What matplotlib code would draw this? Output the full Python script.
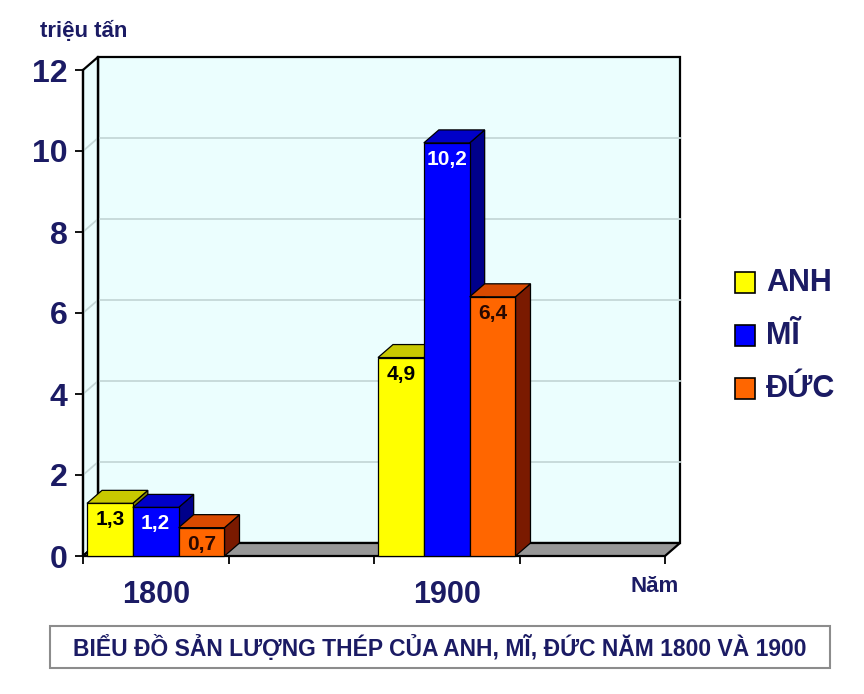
import matplotlib
matplotlib.use('Agg')
import matplotlib.pyplot as plt
from matplotlib.patches import Polygon, Rectangle
from matplotlib import font_manager

# ---- data ----
categories = ['1800', '', '1900', '']
series_names = ['ANH', 'MĨ', 'ĐỨC']
anh = [1.3, None, 4.9, None]
mi = [1.2, None, 10.2, None]
duc = [0.7, None, 6.4, None]
y_ticks = [0, 2, 4, 6, 8, 10, 12]
y_unit = 'triệu tấn'
x_name = 'Năm'
title = 'BIỂU ĐỒ SẢN LƯỢNG THÉP CỦA ANH, MĨ, ĐỨC NĂM 1800 VÀ 1900'

series = [anh, mi, duc]
front_c = ['#FFFF00', '#0000FF', '#FF6600']
top_c = ['#C8C800', '#0000C8', '#D94A00']
side_c = ['#8A8A00', '#00008A', '#7A1A00']
lab_c = ['black', 'white', '#2a0800']
navy = '#1B1B64'

avail = {f.name for f in font_manager.fontManager.ttflist}
base = 'Liberation Sans' if 'Liberation Sans' in avail else 'DejaVu Sans'
narrow = 'Liberation Sans Narrow' if 'Liberation Sans Narrow' in avail else None
plt.rcParams['font.family'] = [base, 'DejaVu Sans']
plt.rcParams['font.weight'] = 'bold'

W, H = 864, 694
fig = plt.figure(figsize=(W / 100, H / 100), dpi=100)
fig.patch.set_facecolor('white')
ax = fig.add_axes([83 / W, (H - 556) / H, 582 / W, 486 / H])
n = len(categories)
ymax = y_ticks[-1]
ax.set_xlim(0, n)
ax.set_ylim(0, ymax)
ax.patch.set_visible(False)
for s in ax.spines.values():
    s.set_visible(False)

dx = 15 / 145.5
dy = 13 / 40.5
wall = '#EBFEFE'
grid = '#C5D8D8'

# walls
ax.add_patch(Rectangle((dx, dy), n, ymax, facecolor=wall, edgecolor='black',
                       lw=1.6, zorder=0.5, clip_on=False))
ax.add_patch(Polygon([(0, 0), (dx, dy), (dx, ymax + dy), (0, ymax)], closed=True,
                     facecolor=wall, edgecolor='black', lw=1.6, zorder=0.55, clip_on=False))
for v in y_ticks[1:-1]:
    ax.plot([dx, n + dx], [v + dy, v + dy], color=grid, lw=1.3, zorder=0.6, clip_on=False)
    ax.plot([0, dx], [v, v + dy], color=grid, lw=1.3, zorder=0.6, clip_on=False)
ax.plot([dx, dx], [dy, ymax + dy], color='black', lw=1.6, zorder=0.65, clip_on=False)
ax.plot([0, 0], [0, ymax], color='black', lw=1.6, zorder=0.65, clip_on=False)
# floor
ax.add_patch(Polygon([(0, 0), (n, 0), (n + dx, dy), (dx, dy)], closed=True,
                     facecolor='#979797', edgecolor='black', lw=1.6, zorder=0.7, clip_on=False))

# bars
w = 0.315
start = 0.5 - 1.5 * w
z = 2
for j in range(n):
    for i, vals in enumerate(series):
        v = vals[j]
        if v is None:
            continue
        x0 = j + start + i * w
        ax.add_patch(Polygon([(x0 + w, 0), (x0 + w + dx, dy), (x0 + w + dx, v + dy), (x0 + w, v)],
                             closed=True, facecolor=side_c[i], edgecolor='black', lw=0.9,
                             zorder=z, clip_on=False))
        ax.add_patch(Polygon([(x0, v), (x0 + w, v), (x0 + w + dx, v + dy), (x0 + dx, v + dy)],
                             closed=True, facecolor=top_c[i], edgecolor='black', lw=0.9,
                             zorder=z, clip_on=False))
        ax.bar(x0, v, width=w, align='edge', color=front_c[i], edgecolor='black',
               lw=0.9, zorder=z + 0.1, clip_on=False)
        ax.annotate(f'{v:.1f}'.replace('.', ','), xy=(x0 + w / 2, v), xytext=(0, -7),
                    textcoords='offset pixels', ha='center', va='top', fontsize=15,
                    color=lab_c[i], fontweight='bold', zorder=z + 0.2)
        z += 1

# axes ticks
ax.set_yticks(y_ticks)
ax.set_yticklabels([str(t) for t in y_ticks])
ax.tick_params(axis='y', direction='out', length=6, width=1.3, color='black', pad=5,
               labelsize=23, labelcolor=navy)
ax.set_xticks(range(n + 1))
ax.set_xticklabels([''] * (n + 1))
ax.tick_params(axis='x', direction='out', length=6, width=1.3, color='black')
for lbl in ax.get_yticklabels():
    lbl.set_fontweight('bold')
for j, c in enumerate(categories):
    if c:
        ax.annotate(c, xy=(j + 0.5, 0), xycoords=('data', 'axes fraction'), xytext=(0, -39),
                    textcoords='offset pixels', ha='center', va='center', fontsize=22,
                    fontweight='bold', color=navy)

fig.text(40 / W, (H - 31) / H, y_unit, fontsize=16, fontweight='bold', color=navy,
         ha='left', va='center')
fig.text(655 / W, (H - 587) / H, x_name, fontsize=16, fontweight='bold', color=navy,
         ha='center', va='center')

# legend
for i, name in enumerate(series_names):
    cy = 283 + i * 53
    fig.patches.append(Rectangle((735 / W, (H - cy - 10) / H), 20 / W, 21 / H,
                                 transform=fig.transFigure, facecolor=front_c[i],
                                 edgecolor='black', lw=1.2))
    fig.text(766 / W, (H - cy) / H, name, fontsize=22, fontweight='bold', color=navy,
             ha='left', va='center')

# title box
fig.patches.append(Rectangle((50 / W, 26 / H), 780 / W, 42 / H, transform=fig.transFigure,
                             facecolor='white', edgecolor='#8C8C8C', lw=1.5))
if narrow:
    fig.text(440 / W, (H - 648) / H, title, fontsize=18, fontweight='bold', color=navy,
             ha='center', va='center', family=[narrow, 'DejaVu Sans'])
else:
    fig.text(440 / W, (H - 648) / H, title, fontsize=16.5, fontweight='bold', color=navy,
             ha='center', va='center')

fig.savefig('out.png', dpi=100)
